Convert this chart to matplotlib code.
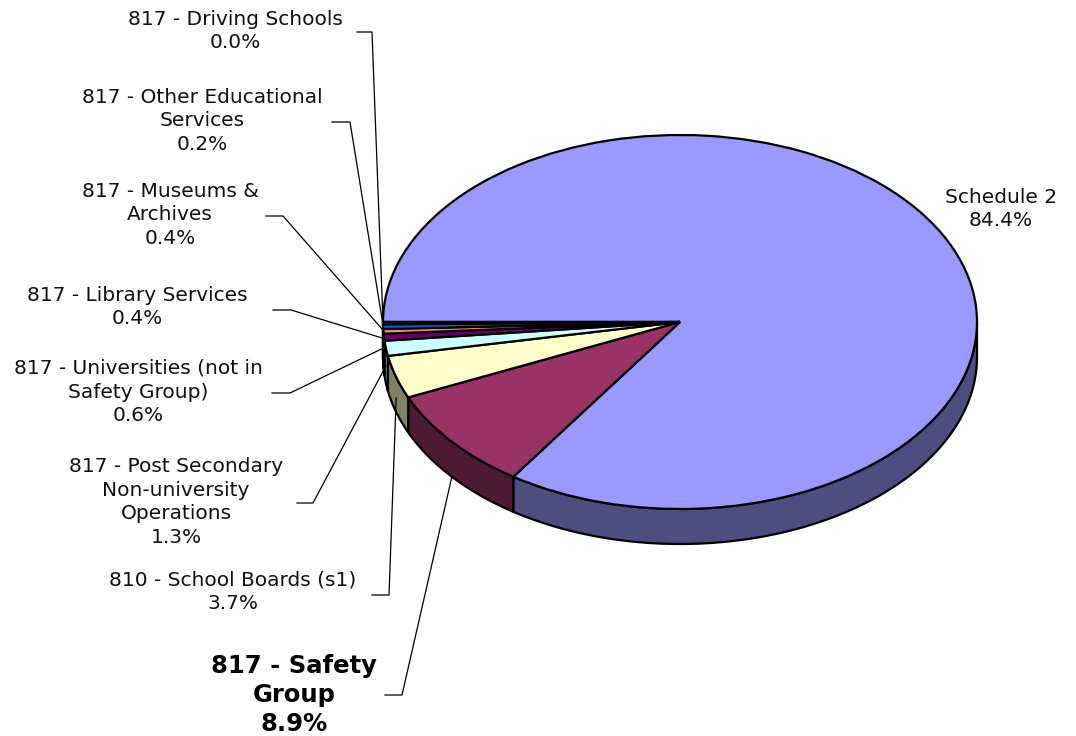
import numpy as np
import matplotlib
matplotlib.use("Agg")
import matplotlib.pyplot as plt

# ---- data ----
categories = [
    "Schedule 2",
    "817 - Safety\nGroup",
    "810 - School Boards (s1)",
    "817 - Post Secondary\nNon-university\nOperations",
    "817 - Universities (not in\nSafety Group)",
    "817 - Library Services",
    "817 - Museums &\nArchives",
    "817 - Other Educational\nServices",
    "817 - Driving Schools",
]
values = [84.4, 8.9, 3.7, 1.3, 0.6, 0.4, 0.4, 0.2, 0.0]
colors = ["#9999FF", "#993366", "#FFFFCC", "#CCFFFF", "#660066",
          "#FF8080", "#0066CC", "#CCCCFF", "#000080"]

# ---- layout (pixels) ----
W, H = 1076, 736
CX, CY = 680, 322      # pie centre
RX, RY = 297, 187      # ellipse radii
DEPTH = 35 / RY        # side thickness in data units

fig = plt.figure(figsize=(W / 100, H / 100), dpi=100)
ax = fig.add_axes([0, 0, 1, 1])

def P(px, py):
    return ((px - CX) / RX, (CY - py) / RY)

wedges, _ = ax.pie(values, colors=colors, startangle=180, counterclock=False,
                   radius=1.0, center=(0, 0),
                   wedgeprops=dict(edgecolor="black", linewidth=1.6, zorder=3))
ax.set_aspect("auto")
ax.set_xlim((0 - CX) / RX, (W - CX) / RX)
ax.set_ylim((CY - H) / RY, CY / RY)
ax.axis("off")

# ---- 3D sides ----
def darker(c, f=0.5):
    r, g, b, _ = matplotlib.colors.to_rgba(c)
    return (r * f, g * f, b * f)

mids = []
for w, col in zip(wedges, colors):
    a, b = w.theta1, w.theta2
    mids.append(np.deg2rad((a + b) / 2))
    segs = []
    for base in (-360, 0, 360):
        s = max(a + base, 180)
        e = min(b + base, 360)
        if e > s:
            segs.append((s, e))
    for s, e in segs:
        t = np.deg2rad(np.linspace(s, e, 100))
        xs = np.concatenate([np.cos(t), np.cos(t[::-1])])
        ys = np.concatenate([np.sin(t), np.sin(t[::-1]) - DEPTH])
        ax.fill(xs, ys, facecolor=darker(col), edgecolor="black",
                linewidth=1.6, zorder=2, clip_on=False)

# ---- labels ----
label_font = dict(family="DejaVu Sans", fontsize=14.5, color="#111111",
                  ha="center", va="center", linespacing=1.33)

texts = [f"{c}\n{v:.1f}%" for c, v in zip(categories, values)]

layout = {
    0: dict(xy=(1001, 209)),
    1: dict(xy=(294, 695), start=(385, 695), knee=(402, 695), k=1.0, bold=True),
    2: dict(xy=(233, 592), start=(372, 595), knee=(389, 595), k=0.6),
    3: dict(xy=(176, 502), start=(297, 503), knee=(313, 503), k=0.5),
    4: dict(xy=(138, 392), start=(272, 393), knee=(290, 393), k=0.3),
    5: dict(xy=(137, 307), start=(273, 310), knee=(291, 310), k=0.2),
    6: dict(xy=(170, 215), start=(266, 216), knee=(283, 216), k=0.1),
    7: dict(xy=(202, 121), start=(332, 122), knee=(350, 122), k=0.05),
    8: dict(xy=(235, 31), start=(357, 32), knee=(372, 32), k=0.0),
}

for i, txt in enumerate(texts):
    L = layout[i]
    tx, ty = P(*L["xy"])
    if L.get("bold"):
        ax.text(tx, ty, txt, family="DejaVu Sans", fontsize=17.5,
                fontweight="bold", color="black", ha="center", va="center",
                linespacing=1.28)
    else:
        ax.text(tx, ty, txt, **label_font)
    if "start" in L:
        m = mids[i]
        ex, ey = np.cos(m), np.sin(m) - DEPTH * L["k"]
        sx, sy = P(*L["start"])
        kx, ky = P(*L["knee"])
        ax.plot([sx, kx, ex], [sy, ky, ey], color="black", linewidth=0.9,
                zorder=5, clip_on=False)

fig.savefig("out.png", dpi=100, facecolor="white")
